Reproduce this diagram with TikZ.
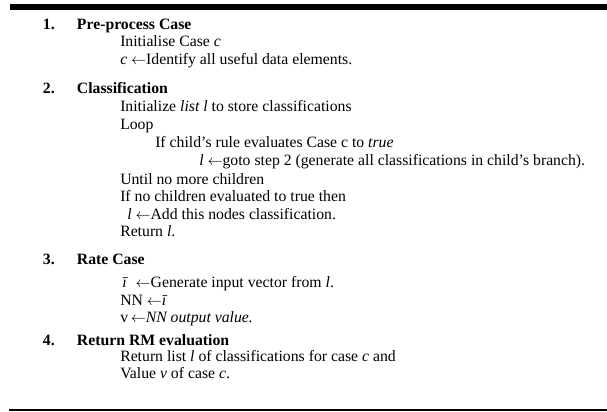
\documentclass[tikz,border=0pt]{standalone}
\usepackage{fontspec}
\setmainfont{Liberation Serif}
\usetikzlibrary{positioning}

\begin{document}
\begin{tikzpicture}[x=0.8pt, y=-0.8pt, font=\fontsize{12.6}{15}\selectfont,
	txt/.style={anchor=base west, inner sep=0pt},
	hd/.style={txt, font=\fontsize{12.6}{15}\selectfont\bfseries}]
\useasboundingbox (0,0) rectangle (607,412);

% ---- rules ----
\fill[black] (9.5,4) rectangle (607,9.5);
\fill[black] (9,408.5) rectangle (607,411);

% ---- step numbers and headings ----
\foreach \n/\y in {1/29,2/93,3/264,4/345}
	\node[hd] (num\n) at (42.7,\y) {\n.};
\node[hd] (head1) at (76.7,29) {Pre-process Case};
\node[hd] (head2) at (76.7,93) {Classification};
\node[hd] (head3) at (76.7,264) {Rate Case};
\node[hd] (head4) at (76.7,345) {Return RM evaluation};

% ---- step 1 ----
\node[txt] (initcase) at (120,46.5) {Initialise Case \textit{c}};
\node[txt] (identify) at (120,64.5) {\textit{c} $\leftarrow$Identify all useful data elements.};

% ---- step 2 ----
\node[txt] (initlist) at (120,111) {Initialize \textit{list l} to store classifications};
\node[txt] (loop) at (120,129) {Loop};
\node[txt] (ifchild) at (155,147.5) {If child's rule evaluates Case c to \textit{true}};
\node[txt] (gotostep) at (199,165.5) {\textit{l} $\leftarrow$goto step 2 (generate all classifications in child's branch).};
\node[txt] (until) at (120,184) {Until no more children};
\node[txt] (ifnone) at (120,201.5) {If no children evaluated to true then};
\node[txt] (addclass) at (127,219) {\textit{l} $\leftarrow$Add this nodes classification.};
\node[txt] (returnl) at (120,236.5) {Return \textit{l}.};

% ---- step 3 ----
\node[txt] (genvec) at (122,287.5) {\textit{ī}\ \ $\leftarrow$Generate input vector from \textit{l}.};
\node[txt] (nnin) at (120,305) {NN $\leftarrow$\textit{ī}};
\node[txt] (nnout) at (120,322) {v\,$\leftarrow$\textit{NN output value.}};

% ---- step 4 ----
\node[txt] (retlist) at (120,361.5) {Return list \textit{l} of classifications for case \textit{c} and};
\node[txt] (retval) at (120,378) {Value \textit{v} of case \textit{c}.};
\end{tikzpicture}
\end{document}
